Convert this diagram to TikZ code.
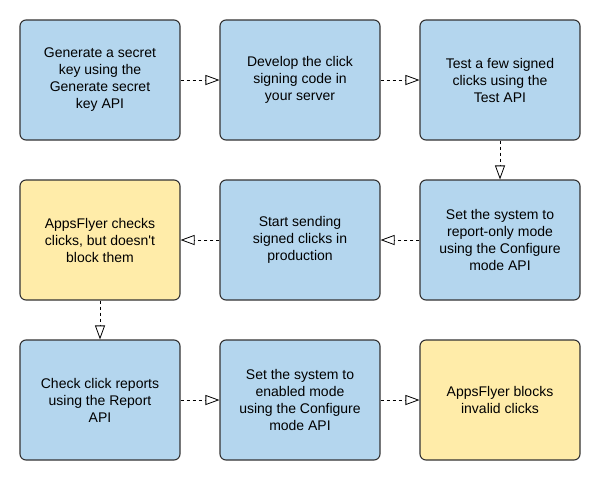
\documentclass[tikz,border=0pt]{standalone}
\usepackage{fontspec}
\setmainfont{Liberation Sans}
\usetikzlibrary{arrows.meta}
\definecolor{stepblue}{RGB}{180,214,238}
\definecolor{stepyellow}{RGB}{255,236,169}
\definecolor{stepline}{RGB}{51,51,51}

\begin{document}
\begin{tikzpicture}[x=1pt,y=1pt]
        \tikzset{stepbox/.style={draw=stepline,line width=1.1pt,rounded corners=6pt,
                minimum width=160pt,minimum height=120pt,align=center,
                font=\fontsize{14}{17}\selectfont,text=black,fill=stepblue},
            notebox/.style={stepbox,fill=stepyellow},
            flow/.style={draw=black,line width=0.8pt,dash pattern=on 3pt off 3pt,
                -{Triangle[open,length=14pt,width=10pt,fill=white]}}}
            \useasboundingbox (0,0) rectangle (598,-480);
            \node[stepbox] (key) at (100,-80) {Generate a secret\\key using the\\Generate secret\\key API};
            \node[stepbox] (code) at (300,-80) {Develop the click\\signing code in\\your server};
            \node[stepbox] (test) at (500,-80) {Test a few signed\\clicks using the\\Test API};
            \node[notebox] (checks) at (100,-240) {AppsFlyer checks\\clicks, but doesn\textquotesingle t\\block them};
            \node[stepbox] (send) at (300,-240) {Start sending\\signed clicks in\\production};
            \node[stepbox] (report) at (500,-240) {Set the system to\\report-only mode\\using the Configure\\mode API};
            \node[stepbox] (reports) at (100,-400) {Check click reports\\using the Report\\API};
            \node[stepbox] (enable) at (300,-400) {Set the system to\\enabled mode\\using the Configure\\mode API};
            \node[notebox] (blocks) at (500,-400) {AppsFlyer blocks\\invalid clicks};

            \draw[flow] (key) -- (code);
            \draw[flow] (code) -- (test);
            \draw[flow] (test) -- (report);
            \draw[flow] (report) -- (send);
            \draw[flow] (send) -- (checks);
            \draw[flow] (checks) -- (reports);
            \draw[flow] (reports) -- (enable);
            \draw[flow] (enable) -- (blocks);
        \end{tikzpicture}
\end{document}
